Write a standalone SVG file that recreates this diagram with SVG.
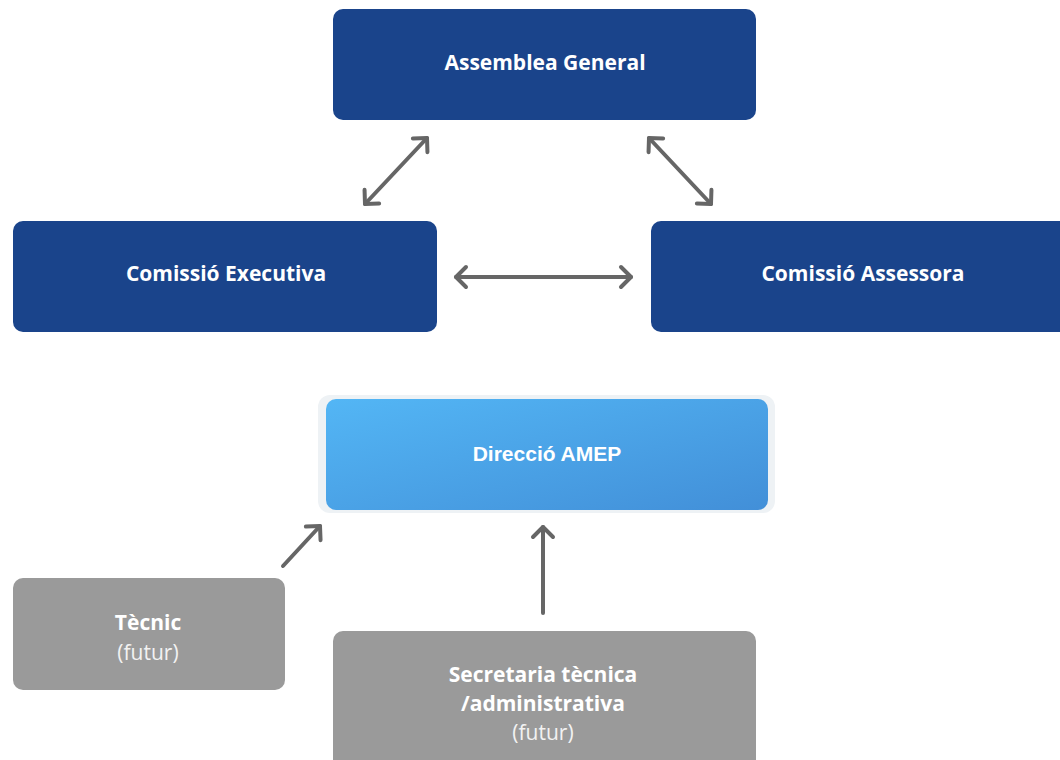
<svg xmlns="http://www.w3.org/2000/svg" width="1060" height="760" viewBox="0 0 1060 760">
<defs>
<style>
.dark{fill:#1a448b}
.grey{fill:#9a9a9a}
.t{font-family:"Open Sans","Liberation Sans",sans-serif;font-weight:700;fill:#fff;text-anchor:middle;font-size:21px}
.f{font-family:"Open Sans","Liberation Sans",sans-serif;font-weight:400;fill:#f2f2f2;text-anchor:middle;font-size:21px}
.a{font-family:"Liberation Sans",Arial,sans-serif;font-weight:700;fill:#fff;text-anchor:middle;font-size:21px}
.c{stroke:#666;stroke-width:4;fill:none;stroke-linecap:round}
</style>
<linearGradient id="blue" x1="0" y1="0" x2="1" y2="1">
<stop offset="0" stop-color="#53b6f5"/>
<stop offset="1" stop-color="#428fd8"/>
</linearGradient>
<marker id="ah" markerUnits="userSpaceOnUse" markerWidth="30" markerHeight="30" viewBox="-15 -15 30 30" refX="0" refY="0" orient="auto-start-reverse">
<path d="M-10,-10 L0,0 L-10,10" stroke="#666" stroke-width="4" fill="none" stroke-linecap="round" stroke-linejoin="round"/>
</marker>
</defs>
<rect width="1060" height="760" fill="#fff"/>
<g id="connectors">
<line class="c" x1="365" y1="204" x2="427" y2="138" marker-start="url(#ah)" marker-end="url(#ah)"/>
<line class="c" x1="649" y1="138" x2="711" y2="204" marker-start="url(#ah)" marker-end="url(#ah)"/>
<line class="c" x1="456" y1="277" x2="631" y2="277" marker-start="url(#ah)" marker-end="url(#ah)"/>
<line class="c" x1="283" y1="566" x2="320" y2="526" marker-end="url(#ah)"/>
<line class="c" x1="543" y1="613" x2="543" y2="527" marker-end="url(#ah)"/>
</g>
<g id="assemblea">
<rect class="dark" x="333" y="9" width="423" height="111" rx="10"/>
<text class="t" x="545" y="70">Assemblea General</text>
</g>
<g id="executiva">
<rect class="dark" x="13" y="221" width="424" height="111" rx="10"/>
<text class="t" x="226" y="281">Comissió Executiva</text>
</g>
<g id="assessora">
<rect class="dark" x="651" y="221" width="430" height="111" rx="10"/>
<text class="t" x="863" y="281">Comissió Assessora</text>
</g>
<g id="direccio">
<rect x="318" y="395" width="457" height="118" rx="12" fill="#eef2f5"/>
<rect x="326" y="399" width="442" height="111" rx="10" fill="url(#blue)"/>
<text class="a" x="547" y="461">Direcció AMEP</text>
</g>
<g id="tecnic">
<rect class="grey" x="13" y="578" width="272" height="112" rx="10"/>
<text class="t" x="148" y="630">Tècnic</text>
<text class="f" x="148" y="660">(futur)</text>
</g>
<g id="secretaria">
<rect class="grey" x="333" y="631" width="423" height="140" rx="10"/>
<text class="t" x="543" y="682">Secretaria tècnica</text>
<text class="t" x="543" y="711">/administrativa</text>
<text class="f" x="543" y="740">(futur)</text>
</g>
</svg>
